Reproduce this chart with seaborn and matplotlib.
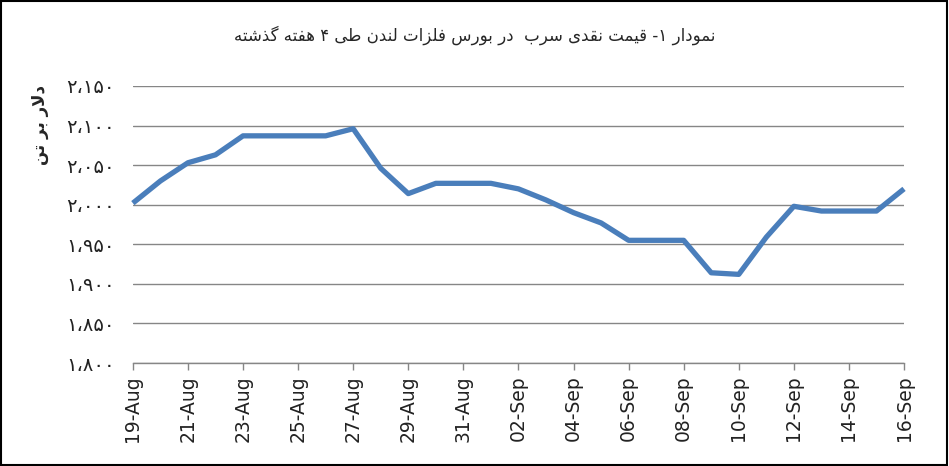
import pandas as pd
import matplotlib.pyplot as plt
import matplotlib.dates as mdates
from matplotlib.ticker import FuncFormatter, MultipleLocator
from matplotlib.patches import Rectangle
import seaborn as sns

sns.set_style("white")
plt.rcParams['font.family'] = ['DejaVu Sans']

# ===== DATA =====
dates = pd.date_range("2013-08-19", "2013-09-16", freq="D")
prices = [2002, 2030, 2053, 2063, 2087, 2087, 2087, 2087, 2096, 2046,
          2014, 2027, 2027, 2027, 2020, 2006, 1990, 1977, 1955, 1955,
          1955, 1914, 1912, 1959, 1998, 1992, 1992, 1992, 2020]
title_text = "نمودار ۱- قیمت نقدی سرب  در بورس فلزات لندن طی ۴ هفته گذشته"
ylabel_text = "دلار بر تن"

df = pd.DataFrame({"Date": dates, "Price": prices})

# ===== SIMPLE ARABIC/PERSIAN SHAPING (matplotlib has no shaping) =====
FORMS = {  # isolated, final, initial, medial
    'ا': (0xFE8D, 0xFE8E), 'د': (0xFEA9, 0xFEAA), 'ذ': (0xFEAB, 0xFEAC),
    'ر': (0xFEAD, 0xFEAE), 'ز': (0xFEAF, 0xFEB0), 'و': (0xFEED, 0xFEEE),
    'ب': (0xFE8F, 0xFE90, 0xFE91, 0xFE92), 'ت': (0xFE95, 0xFE96, 0xFE97, 0xFE98),
    'س': (0xFEB1, 0xFEB2, 0xFEB3, 0xFEB4), 'ش': (0xFEB5, 0xFEB6, 0xFEB7, 0xFEB8),
    'ط': (0xFEC1, 0xFEC2, 0xFEC3, 0xFEC4), 'ف': (0xFED1, 0xFED2, 0xFED3, 0xFED4),
    'ق': (0xFED5, 0xFED6, 0xFED7, 0xFED8), 'ل': (0xFEDD, 0xFEDE, 0xFEDF, 0xFEE0),
    'م': (0xFEE1, 0xFEE2, 0xFEE3, 0xFEE4), 'ن': (0xFEE5, 0xFEE6, 0xFEE7, 0xFEE8),
    'ه': (0xFEE9, 0xFEEA, 0xFEEB, 0xFEEC), 'ی': (0xFBFC, 0xFBFD, 0xFBFE, 0xFBFF),
    'گ': (0xFB92, 0xFB93, 0xFB94, 0xFB95),
}


def shape(text):
    out = []
    i = 0
    n = len(text)
    while i < n:
        c = text[i]
        if c not in FORMS:
            out.append(c)
            i += 1
            continue
        prev = text[i - 1] if i > 0 else ''
        prev_j = prev in FORMS and len(FORMS[prev]) == 4
        if c == 'ل' and i + 1 < n and text[i + 1] == 'ا':
            out.append(chr(0xFEFC if prev_j else 0xFEFB))
            i += 2
            continue
        f = FORMS[c]
        nxt = text[i + 1] if i + 1 < n else ''
        next_j = len(f) == 4 and nxt in FORMS
        if prev_j and next_j:
            out.append(chr(f[3]))
        elif prev_j:
            out.append(chr(f[1]))
        elif next_j:
            out.append(chr(f[2]))
        else:
            out.append(chr(f[0]))
        i += 1
    return ''.join(out)[::-1]


def fa_number(v, pos=None):
    s = f"{int(round(v)):,}".replace(',', '،')
    return s.translate(str.maketrans('0123456789', '۰۱۲۳۴۵۶۷۸۹'))


# ===== PLOT =====
fig = plt.figure(figsize=(9.49, 4.66), dpi=100)
ax = fig.add_axes([0.140, 0.221, 0.8126, 0.5945])

sns.lineplot(data=df, x="Date", y="Price", ax=ax, color="#4A7EBB",
             linewidth=3.8, solid_capstyle='butt', clip_on=False)

ax.set_xlim(dates[0], dates[-1])
ax.set_ylim(1800, 2150)
ax.yaxis.set_major_locator(MultipleLocator(50))
ax.yaxis.set_major_formatter(FuncFormatter(fa_number))
ax.xaxis.set_major_locator(mdates.DayLocator(bymonthday=[19, 21, 23, 25, 27, 29, 31, 2, 4, 6, 8, 10, 12, 14, 16]))
ax.xaxis.set_major_formatter(mdates.DateFormatter('%d-%b'))

ax.grid(axis='y', color='#868686', linewidth=1)
ax.set_axisbelow(True)
for side in ['top', 'right', 'left']:
    ax.spines[side].set_visible(False)
ax.spines['bottom'].set_color('#868686')
ax.spines['bottom'].set_linewidth(1)

ax.tick_params(axis='y', length=0, pad=13, labelsize=14, labelcolor='#222222')
ax.tick_params(axis='x', length=5, width=1, color='#868686', pad=4,
               labelsize=13.5, labelcolor='#222222', rotation=90, bottom=True)
ax.set_xlabel("")
ax.set_ylabel("")

fig.text(0.5, 1 - 35 / 466, shape(title_text), ha='center', va='center', fontsize=12)
fig.text(0.042, 1 - 125 / 466, shape(ylabel_text), ha='center', va='center',
         rotation=90, fontsize=12, fontweight='bold')

fig.patches.append(Rectangle((0.001, 0.002), 0.997, 0.996, transform=fig.transFigure,
                             fill=False, edgecolor='black', linewidth=1.5))

plt.savefig("out.png", dpi=100)
plt.close()
